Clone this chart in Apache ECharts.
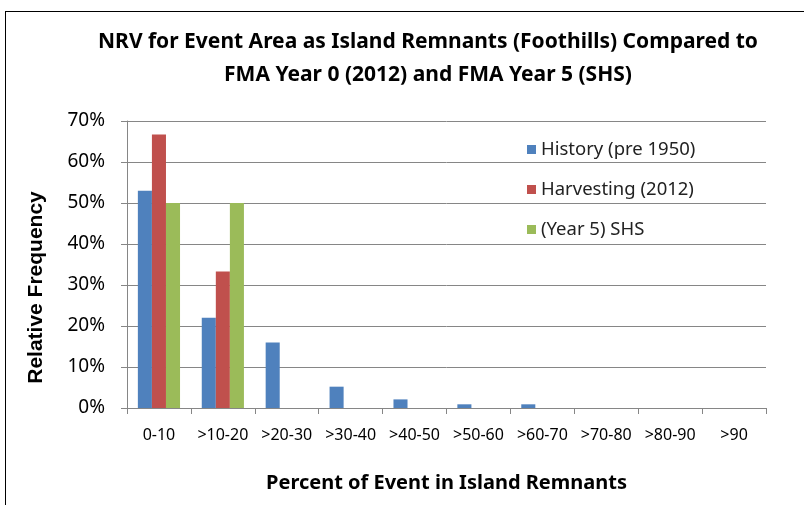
<!DOCTYPE html>
<html>
<head>
<meta charset="utf-8">
<script src="https://cdn.jsdelivr.net/npm/echarts@6/dist/echarts.min.js"></script>
<style>
  html, body { margin: 0; padding: 0; background: #fff; }
  /*外框*/
  .frame { position: absolute; left: 5px; top: 11px; width: 820px; height: 520px; border: 1.5px solid #000; box-sizing: border-box; }
  #chart { position: absolute; left: 0; top: 0; width: 804px; height: 505px; }
</style>
</head>
<body>
<div class="frame"></div>
<div id="chart"></div>
<script>
  // 分类和数值（百分比）
  const categories = ['0-10', '>10-20', '>20-30', '>30-40', '>40-50', '>50-60', '>60-70', '>70-80', '>80-90', '>90']
  const historyValues = [53, 22, 16, 5.2, 2.1, 0.9, 0.9, 0, 0, 0]
  const harvestingValues = [66.7, 33.3, 0, 0, 0, 0, 0, 0, 0, 0]
  const shsValues = [50, 50, 0, 0, 0, 0, 0, 0, 0, 0]
  const seriesNames = ['History (pre 1950)', 'Harvesting (2012)', '(Year 5) SHS']
  const colors = ['#4F81BD', '#C0504D', '#9BBB59']

  const font = '"Noto Sans", sans-serif'
  const chartInstance = echarts.init(document.getElementById('chart'), null, { renderer: 'canvas' })

  const makeBar = (name, data, color) => ({
    name: name,
    type: 'bar',
    data: data,
    barGap: '0%',
    barCategoryGap: '34%',
    itemStyle: { color: color },
    animation: false
  })

  const option = {
    backgroundColor: 'transparent',
    textStyle: { fontFamily: font },
    title: {
      text: 'NRV for Event Area as Island Remnants (Foothills) Compared to\nFMA Year 0 (2012) and FMA Year 5 (SHS)',
      left: 423,
      textAlign: 'center',
      top: 21,
      textStyle: { fontSize: 21, fontWeight: 'bold', color: '#000', lineHeight: 33, fontFamily: font }
    },
    legend: {
      orient: 'vertical',
      left: 522,
      top: 135,
      itemWidth: 9,
      itemHeight: 9,
      itemGap: 21,
      icon: 'rect',
      textStyle: { fontSize: 18.5, color: '#222', fontFamily: font }
    },
    grid: { left: 127, right: 38, top: 121, bottom: 97 },
    xAxis: {
      type: 'category',
      data: categories,
      name: 'Percent of Event in Island Remnants',
      nameLocation: 'middle',
      nameGap: 65,
      nameTextStyle: { fontSize: 20, fontWeight: 'bold', color: '#000', fontFamily: font },
      axisLine: { lineStyle: { color: '#868686' } },
      axisTick: { show: true, length: 6, lineStyle: { color: '#868686' } },
      axisLabel: { interval: 0, fontSize: 16, color: '#000', margin: 19, fontFamily: font }
    },
    yAxis: {
      type: 'value',
      min: 0,
      max: 70,
      interval: 10,
      name: 'Relative Frequency',
      nameLocation: 'middle',
      nameGap: 80,
      nameTextStyle: { fontSize: 21, fontWeight: 'bold', color: '#000', fontFamily: '"Liberation Sans", Arial, sans-serif', padding: [0, 0, 0, -46] },
      axisLine: { show: true, lineStyle: { color: '#868686' } },
      axisTick: { show: true, length: 6, lineStyle: { color: '#868686' } },
      axisLabel: { formatter: '{value}%', fontSize: 19, color: '#000', margin: 22, fontFamily: font },
      splitLine: { lineStyle: { color: '#868686' } }
    },
    series: [
      makeBar(seriesNames[0], historyValues, colors[0]),
      makeBar(seriesNames[1], harvestingValues, colors[1]),
      makeBar(seriesNames[2], shsValues, colors[2])
    ]
  }
  chartInstance.setOption(option)
</script>
</body>
</html>
